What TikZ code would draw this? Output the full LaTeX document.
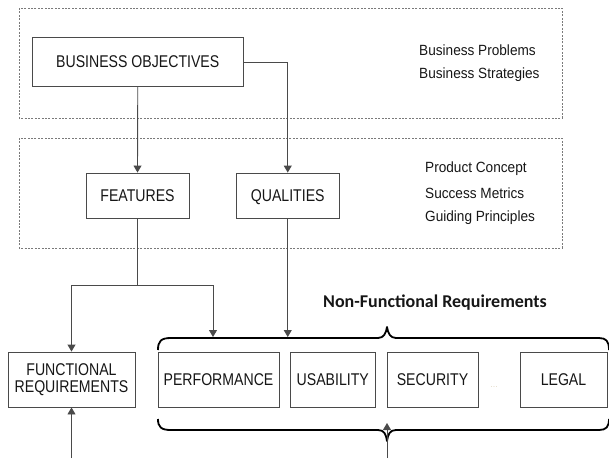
\documentclass[tikz,border=0pt]{standalone}
\usepackage{fontspec}
\setmainfont{Liberation Sans}
\newfontfamily\boxfont[FakeStretch=0.83]{Liberation Sans}
\newfontfamily\notefont[FakeStretch=0.92]{Liberation Sans}
\newfontfamily\calfont{Carlito}
\usetikzlibrary{arrows.meta}
\definecolor{ink}{HTML}{161616}
\definecolor{boxline}{HTML}{4A4A4A}
\definecolor{dashline}{HTML}{7A7A7A}
\definecolor{faint}{HTML}{E2D9C6}
\tikzset{
  blk/.style={font=\boxfont\fontsize{17}{17}\selectfont, text=ink, draw=boxline, line width=0.9pt, rectangle, inner sep=0pt, align=center},
  note/.style={font=\notefont\fontsize{14.8}{16}\selectfont, text=ink, anchor=west, inner sep=0pt},
  group/.style={draw=dashline, line width=0.8pt, dash pattern=on 2pt off 1.4pt},
  conn/.style={draw=boxline, line width=0.9pt},
  arr/.style={conn, -{Triangle[width=8pt,length=7pt]}},
  brace/.style={draw=black, line width=1.8pt, line join=round}
}
\begin{document}
\begin{tikzpicture}[x=1pt,y=-1pt]
\useasboundingbox (0,0) rectangle (609,458);

% grouping frames
\draw[group] (19,8) rectangle (562,118);
\draw[group] (19,138) rectangle (562,248);

% boxes
\node[blk, minimum width=211.5pt, minimum height=49pt] (obj) at (137.75,62) {BUSINESS OBJECTIVES};
\node[blk, minimum width=103pt, minimum height=45pt] (feat) at (137.5,195.5) {FEATURES};
\node[blk, minimum width=102.5pt, minimum height=45pt, text depth=0pt] (qual) at (287.75,195.5) {QUALITIES};

\node[blk, minimum width=127pt, minimum height=55pt] (func) at (71.5,379.5) {FUNCTIONAL\\REQUIREMENTS};
\node[blk, minimum width=121pt, minimum height=55pt] (perf) at (218.5,379.5) {PERFORMANCE};
\node[blk, minimum width=84.5pt, minimum height=55pt] (usab) at (332.75,379.5) {USABILITY};
\node[blk, minimum width=91pt, minimum height=55pt] (secu) at (432.5,379.5) {SECURITY};
\node[blk, minimum width=87pt, minimum height=55pt] (legal) at (563.5,379.5) {LEGAL};
\node[font=\fontsize{9}{10}\selectfont, text=faint, inner sep=0pt] (dots) at (494,387) {...};

% side notes
\node[note] (bp) at (419,50) {Business Problems};
\node[note] (bs) at (419,74.5) {Business Strategies};
\node[note] (pc) at (425,169) {Product Concept};
\node[note] (sm) at (425,193) {Success Metrics};
\node[note] (gp) at (425,218) {Guiding Principles};

\node[font=\calfont\bfseries\fontsize{18}{20}\selectfont, text=ink, inner sep=0pt] (nfr) at (435,303) {Non-Functional Requirements};

% braces around the non-functional group
\draw[brace] (158,350) .. controls (158,341) and (161,338) .. (171,338) -- (378,338)
  .. controls (384,338) and (386,333) .. (387,327)
  .. controls (388,333) and (390,338) .. (396,338) -- (599,338)
  .. controls (606,338) and (609,341) .. (609,350);
\draw[brace] (158,419) .. controls (158,427) and (161,430) .. (171,430) -- (378,430)
  .. controls (384,430) and (386,434) .. (387,441)
  .. controls (388,434) and (390,430) .. (396,430) -- (599,430)
  .. controls (606,430) and (609,427) .. (609,419);

% connector points
\coordinate (split) at (137.5,285);
\coordinate (nfrA) at (213,337);
\coordinate (nfrB) at (287.75,337);
\coordinate (frsrc) at (71.5,458);
\coordinate (nfrsrc) at (387,458);
\coordinate (nfrup) at (387,423);

% connectors
\draw[arr] (obj.south) -- (feat.north);
\draw[arr] (obj.east) -| (qual.north);
\draw[conn] (feat.south) -- (split);
\draw[arr] (split) -| (func.north);
\draw[arr] (split) -| (nfrA);
\draw[arr] (qual.south) -- (nfrB);
\draw[arr] (frsrc) -- (func.south);
\draw[arr] (nfrsrc) -- (nfrup);
\end{tikzpicture}
\end{document}
